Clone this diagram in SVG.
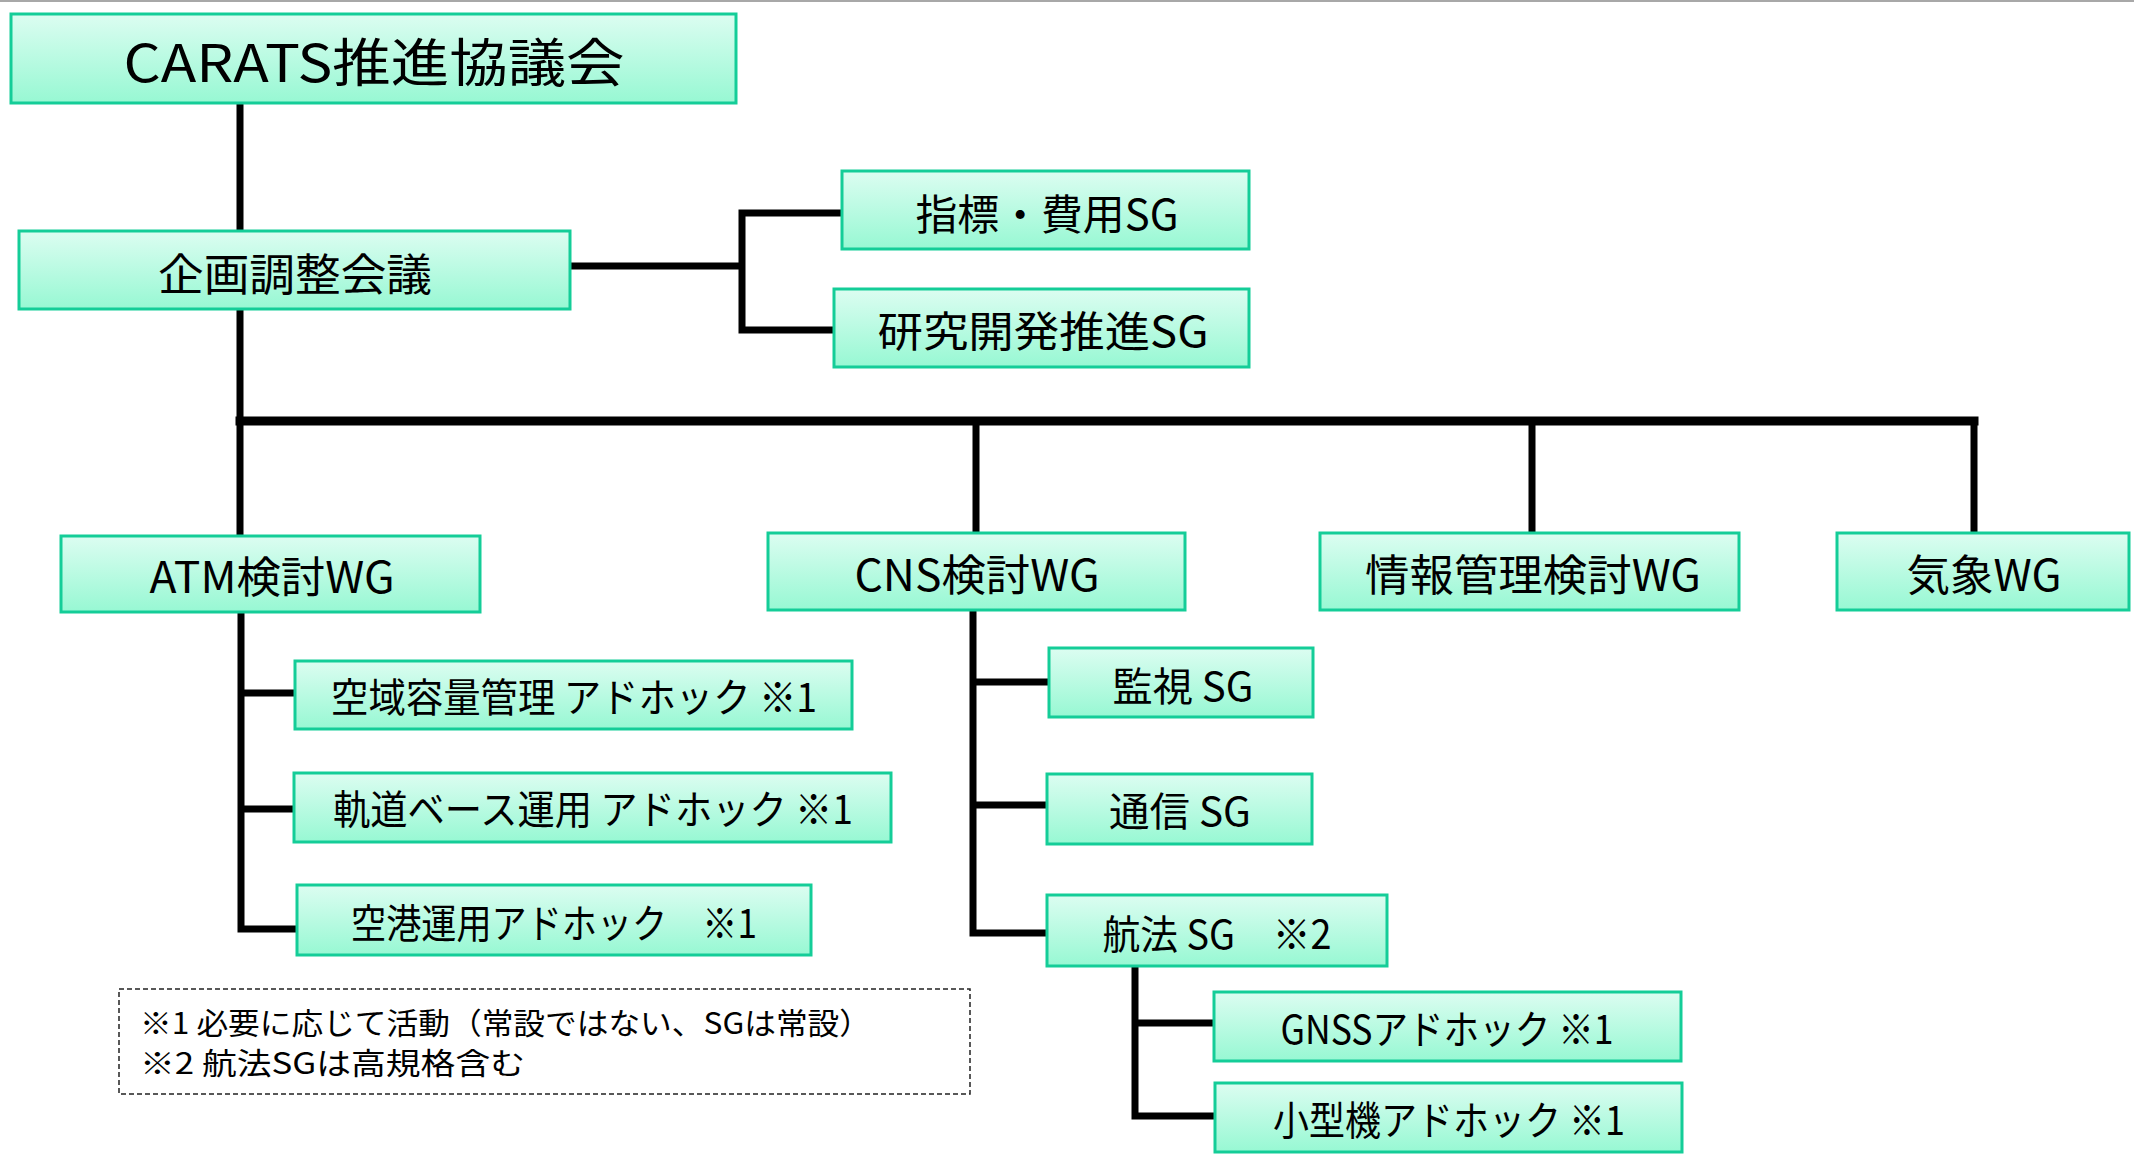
<svg xmlns="http://www.w3.org/2000/svg" width="2134" height="1154" viewBox="0 0 2134 1154">
<defs>
<linearGradient id="mint" x1="0" y1="0" x2="0" y2="1">
<stop offset="0" stop-color="#dcfdf1"/>
<stop offset="1" stop-color="#97f8d3"/>
</linearGradient>
<style>
.box{fill:url(#mint);stroke:#14cd98;stroke-width:3}
.t{font-family:"Noto Sans CJK JP","Noto Sans",sans-serif;fill:#000;text-anchor:middle;dominant-baseline:central}
.n{font-family:"Noto Sans CJK JP","Noto Sans",sans-serif;fill:#000;dominant-baseline:central;font-size:30px}
.c{fill:none;stroke:#000;stroke-width:7;stroke-linecap:square;stroke-linejoin:miter}
.bus{fill:none;stroke:#000;stroke-width:9;stroke-linecap:square}
</style>
</defs>
<rect x="0" y="0" width="2134" height="1154" fill="#fff"/>
<line x1="0" y1="1" x2="2134" y2="1" stroke="#a8a8a8" stroke-width="2"/>

<g id="connectors">
<path class="c" d="M240 103V231M240 309V421"/>
<path class="c" d="M570 266H742M842 213H742V330H834"/>
<path class="bus" d="M240 421H1974"/>
<path class="c" d="M240 421V536M976 421V533M1532 421V533M1974 421V533"/>
<path class="c" d="M241 612V929H297M241 693H295M241 809H294"/>
<path class="c" d="M973 610V933H1047M973 682H1049M973 805H1047"/>
<path class="c" d="M1135 966V1116H1215M1135 1023H1214"/>
</g>

<g id="n-carats"><rect class="box" x="11" y="14" width="725" height="89"/><text class="t" x="374" y="59" font-size="52" textLength="501" lengthAdjust="spacingAndGlyphs">CARATS推進協議会</text></g>
<g id="n-kikaku"><rect class="box" x="19" y="231" width="551" height="78"/><text class="t" x="295" y="272" font-size="44" textLength="274" lengthAdjust="spacingAndGlyphs">企画調整会議</text></g>
<g id="n-shihyo"><rect class="box" x="842" y="171" width="407" height="78"/><text class="t" x="1047" y="211" font-size="42" textLength="263" lengthAdjust="spacingAndGlyphs">指標・費用SG</text></g>
<g id="n-kenkyu"><rect class="box" x="834" y="289" width="415" height="78"/><text class="t" x="1043" y="328" font-size="42" textLength="331" lengthAdjust="spacingAndGlyphs">研究開発推進SG</text></g>
<g id="n-atm"><rect class="box" x="61" y="536" width="419" height="76"/><text class="t" x="272" y="574" font-size="43" textLength="245" lengthAdjust="spacingAndGlyphs">ATM検討WG</text></g>
<g id="n-cns"><rect class="box" x="768" y="533" width="417" height="77"/><text class="t" x="977" y="572" font-size="43" textLength="245" lengthAdjust="spacingAndGlyphs">CNS検討WG</text></g>
<g id="n-joho"><rect class="box" x="1320" y="533" width="419" height="77"/><text class="t" x="1533" y="572" font-size="43" textLength="336" lengthAdjust="spacingAndGlyphs">情報管理検討WG</text></g>
<g id="n-kisho"><rect class="box" x="1837" y="533" width="292" height="77"/><text class="t" x="1984" y="572" font-size="43" textLength="155" lengthAdjust="spacingAndGlyphs">気象WG</text></g>
<g id="n-kuiki"><rect class="box" x="295" y="661" width="557" height="68"/><text class="t" x="574" y="695" font-size="40" textLength="486" lengthAdjust="spacingAndGlyphs">空域容量管理 アドホック ※1</text></g>
<g id="n-kido"><rect class="box" x="294" y="773" width="597" height="69"/><text class="t" x="593" y="807" font-size="40" textLength="520" lengthAdjust="spacingAndGlyphs">軌道ベース運用 アドホック ※1</text></g>
<g id="n-kuko"><rect class="box" x="297" y="885" width="514" height="70"/><text class="t" x="554" y="921" font-size="40" textLength="406" lengthAdjust="spacingAndGlyphs">空港運用アドホック　※1</text></g>
<g id="n-kanshi"><rect class="box" x="1049" y="648" width="264" height="69"/><text class="t" x="1183" y="684" font-size="40" textLength="141" lengthAdjust="spacingAndGlyphs">監視 SG</text></g>
<g id="n-tsushin"><rect class="box" x="1047" y="774" width="265" height="70"/><text class="t" x="1180" y="809" font-size="40" textLength="142" lengthAdjust="spacingAndGlyphs">通信 SG</text></g>
<g id="n-koho"><rect class="box" x="1047" y="895" width="340" height="71"/><text class="t" x="1217" y="932" font-size="40" textLength="229" lengthAdjust="spacingAndGlyphs">航法 SG　※2</text></g>
<g id="n-gnss"><rect class="box" x="1214" y="992" width="467" height="69"/><text class="t" x="1447" y="1027" font-size="40" textLength="333" lengthAdjust="spacingAndGlyphs">GNSSアドホック ※1</text></g>
<g id="n-kogata"><rect class="box" x="1215" y="1083" width="467" height="69"/><text class="t" x="1449" y="1118" font-size="40" textLength="352" lengthAdjust="spacingAndGlyphs">小型機アドホック ※1</text></g>

<g id="note">
<rect x="119" y="989" width="851" height="105" fill="none" stroke="#222" stroke-width="1.5" stroke-dasharray="5 3"/>
<text class="n" x="140" y="1021" textLength="731" lengthAdjust="spacingAndGlyphs">※1 必要に応じて活動（常設ではない、SGは常設）</text>
<text class="n" x="140" y="1061" textLength="385" lengthAdjust="spacingAndGlyphs">※2 航法SGは高規格含む</text>
</g>
</svg>
